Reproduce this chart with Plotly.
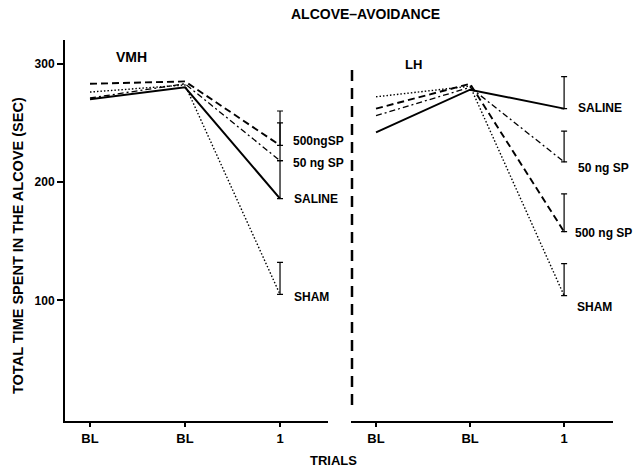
import plotly.graph_objects as go

# ---- data ----
trials = [0, 1, 2]
tick_labels = ["BL", "BL", "1"]
groups = ["SALINE", "50 ng SP", "500 ng SP", "SHAM"]

vmh_saline = [270, 280, 186]
vmh_50ng = [271, 283, 218]
vmh_500ng = [283, 285, 231]
vmh_sham = [276, 282, 105]
vmh_err = [32, 32, 29, 27]          # upper error at trial 1 (saline, 50, 500, sham)

lh_saline = [242, 278, 262]
lh_50ng = [256, 280, 217]
lh_500ng = [262, 283, 158]
lh_sham = [272, 281, 104]
lh_err = [27, 26, 32, 27]

vmh_label_text = ["SALINE", "50 ng SP", "500ngSP", "SHAM"]
lh_label_text = ["SALINE", "50 ng SP", "500 ng SP", "SHAM"]

# ---- styles ----
FONT = "Liberation Sans"
styles = [
    dict(dash="solid", width=2.0),
    dict(dash="6px,3px,2px,3px", width=1.3),
    dict(dash="7px,4px", width=1.9),
    dict(dash="1.5px,2px", width=1.4),
]
vmh_label_y = [185.6, 216, 234.7, 102.8]
lh_label_y = [262.7, 212, 156.8, 94.3]
vmh_label_shift = [12, 11, 11, 12]
lh_label_shift = [12, 12, 9, 11]

fig = go.Figure()

panels = [
    ("x", "y", [vmh_saline, vmh_50ng, vmh_500ng, vmh_sham], vmh_err),
    ("x2", "y2", [lh_saline, lh_50ng, lh_500ng, lh_sham], lh_err),
]
for xa, ya, series, errs in panels:
    for s, st, e in zip(series, styles, errs):
        fig.add_trace(go.Scatter(
            x=trials, y=s, mode="lines", xaxis=xa, yaxis=ya,
            line=dict(color="black", width=st["width"], dash=st["dash"]),
            showlegend=False, hoverinfo="skip"))
        fig.add_trace(go.Scatter(
            x=[trials[-1]], y=[s[-1]], mode="markers", xaxis=xa, yaxis=ya,
            marker=dict(size=1, color="black"),
            error_y=dict(type="data", array=[e], arrayminus=[0], symmetric=False,
                         color="black", thickness=1.2, width=3),
            showlegend=False, hoverinfo="skip"))

ML, MR, MT, MB = 65, 23, 40, 46
W, H = 636, 467
pw, ph = W - ML - MR, H - MT - MB

def px(x):
    return (x - ML) / pw

def py(y):
    return (H - MB - y) / ph

common_x = dict(tickmode="array", tickvals=trials, ticktext=["<b>%s</b>" % t for t in tick_labels],
                ticks="outside", ticklen=4, tickwidth=1.5, tickcolor="black",
                showline=True, linecolor="black", linewidth=2, showgrid=False,
                zeroline=False, tickfont=dict(family=FONT, size=13, color="black"))

fig.update_layout(
    width=W, height=H,
    margin=dict(l=ML, r=MR, t=MT, b=MB, autoexpand=False),
    paper_bgcolor="white", plot_bgcolor="white",
    xaxis=dict(domain=[0, px(328)], range=[-0.263, 2.505], **common_x),
    xaxis2=dict(domain=[px(351), 1], range=[-0.266, 2.52], anchor="y2", **common_x),
    yaxis=dict(range=[-2, 320], tickvals=[100, 200, 300],
               ticktext=["<b>100</b>", "<b>200</b>", "<b>300</b>"],
               ticks="outside", ticklen=6, tickwidth=1.5, tickcolor="black",
               showline=True, linecolor="black", linewidth=2, showgrid=False,
               zeroline=False, tickfont=dict(family=FONT, size=12, color="black")),
    yaxis2=dict(range=[-2, 320], anchor="x2", showline=False, showticklabels=False,
                ticks="", showgrid=False, zeroline=False),
)

ann = []
for t, yv, sh in zip(vmh_label_text, vmh_label_y, vmh_label_shift):
    ann.append(dict(x=trials[-1], y=yv, xref="x", yref="y", text="<b>%s</b>" % t,
                    showarrow=False, xanchor="left", yanchor="middle", xshift=sh,
                    font=dict(family=FONT, size=12, color="black")))
for t, yv, sh in zip(lh_label_text, lh_label_y, lh_label_shift):
    ann.append(dict(x=trials[-1], y=yv, xref="x2", yref="y2", text="<b>%s</b>" % t,
                    showarrow=False, xanchor="left", yanchor="middle", xshift=sh,
                    font=dict(family=FONT, size=12, color="black")))

def text_ann(x, y, text, size, angle=0):
    return dict(x=px(x), y=py(y), xref="paper", yref="paper", text=text,
                showarrow=False, xanchor="center", yanchor="middle", textangle=angle,
                font=dict(family=FONT, size=size, color="black"))

ann += [
    text_ann(365, 14, "<b>ALCOVE\u2013AVOIDANCE</b>", 14),
    text_ann(131, 57, "<b>VMH</b>", 14),
    text_ann(413, 64, "<b>LH</b>", 13),
    text_ann(18, 246, "<b>TOTAL TIME SPENT IN THE ALCOVE (SEC)</b>", 14.5, -90),
    text_ann(333, 460, "<b>TRIALS</b>", 13),
]
fig.update_layout(annotations=ann)

fig.add_shape(type="line", xref="paper", yref="paper",
              x0=px(352), x1=px(352), y0=py(70), y1=py(412),
              line=dict(color="black", width=2.5, dash="11px,7px"))

fig.write_html("out.html", config=dict(displayModeBar=False),
               post_script="document.body.style.margin='0';document.body.style.padding='0';")
